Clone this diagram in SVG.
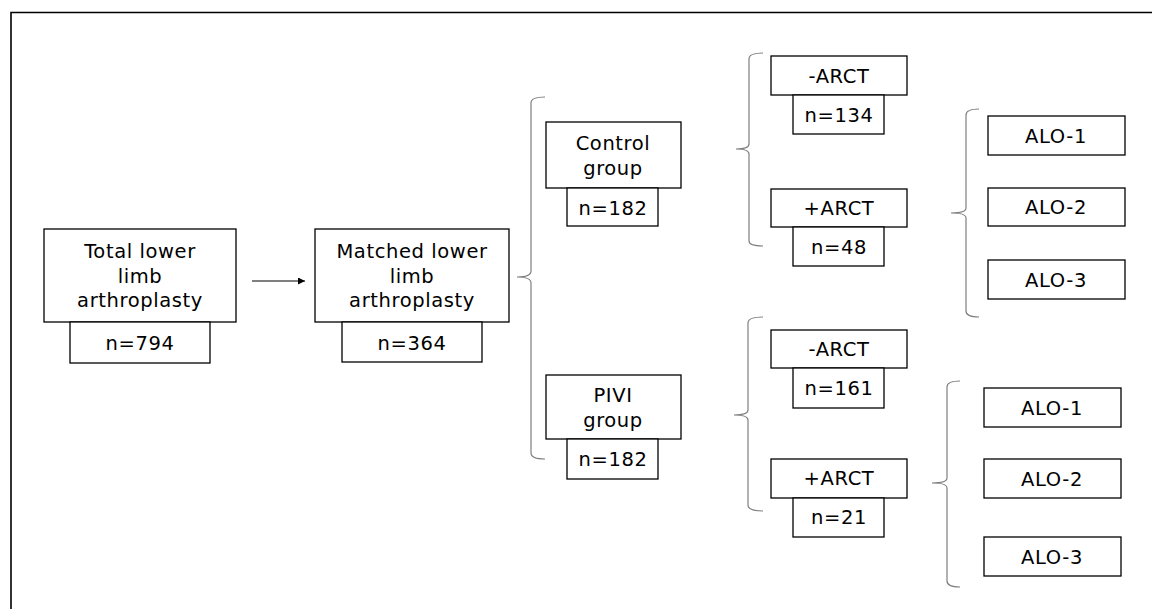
<svg xmlns="http://www.w3.org/2000/svg" width="1152" height="609" viewBox="0 0 1152 609">
<style>
.box{fill:#fff;stroke:#000;stroke-width:1.3}
.t{font-family:"DejaVu Sans",Verdana,sans-serif;font-size:19.5px;letter-spacing:0.6px;text-anchor:middle;fill:#000}
.br{fill:none;stroke:#7f7f7f;stroke-width:1.2}
</style>
<defs>
<marker id="ah" viewBox="0 0 10 10" refX="10" refY="5" markerWidth="7" markerHeight="7" orient="auto" markerUnits="userSpaceOnUse">
<path d="M0,0 L10,5 L0,10 z" fill="#000"/>
</marker>
</defs>
<rect width="1152" height="609" fill="#fff"/>
<path d="M11,609 V12.5 H1152" fill="none" stroke="#000" stroke-width="1.6"/>
<g id="connectors">
<line x1="252" y1="281" x2="305" y2="281" stroke="#000" stroke-width="1" marker-end="url(#ah)"/>
<path class="br" d="M545,97 Q531,97 531,103 L531,271 Q531,277 517,277 Q531,277 531,283 L531,453 Q531,459 545,459"/>
<path class="br" d="M763,53 Q749,53 749,59 L749,144 Q749,149 736,149 Q749,149 749,154 L749,241 Q749,246 763,246"/>
<path class="br" d="M979,109 Q966,109 966,115 L966,208 Q966,213 951,213 Q966,213 966,218 L966,311 Q966,317 979,317"/>
<path class="br" d="M763,317 Q748,317 748,323 L748,410 Q748,415 734,415 Q748,415 748,420 L748,505 Q748,511 763,511"/>
<path class="br" d="M960,381 Q947,381 947,387 L947,478 Q947,483 932,483 Q947,483 947,488 L947,581 Q947,587 960,587"/>
</g>
<g id="total">
<rect class="box" x="44" y="229" width="192" height="93"/>
<text class="t" x="140" y="258">Total lower</text>
<text class="t" x="140" y="283">limb</text>
<text class="t" x="140" y="307">arthroplasty</text>
<rect class="box" x="70" y="322" width="140" height="41"/>
<text class="t" x="140" y="350">n=794</text>
</g>
<g id="matched">
<rect class="box" x="315" y="229" width="194" height="93"/>
<text class="t" x="412" y="258">Matched lower</text>
<text class="t" x="412" y="283">limb</text>
<text class="t" x="412" y="307">arthroplasty</text>
<rect class="box" x="342" y="322" width="140" height="40"/>
<text class="t" x="412" y="350">n=364</text>
</g>
<g id="control">
<rect class="box" x="546" y="122" width="135" height="66"/>
<text class="t" x="613" y="150">Control</text>
<text class="t" x="613" y="175">group</text>
<rect class="box" x="567" y="188" width="91" height="38"/>
<text class="t" x="613" y="215">n=182</text>
</g>
<g id="pivi">
<rect class="box" x="546" y="375" width="135" height="64"/>
<text class="t" x="613" y="402">PIVI</text>
<text class="t" x="613" y="427">group</text>
<rect class="box" x="567" y="439" width="91" height="40"/>
<text class="t" x="613" y="466">n=182</text>
</g>
<g id="c-minus">
<rect class="box" x="771" y="56" width="136" height="39"/>
<text class="t" x="839" y="83">-ARCT</text>
<rect class="box" x="793" y="95" width="91" height="39"/>
<text class="t" x="839" y="122">n=134</text>
</g>
<g id="c-plus">
<rect class="box" x="771" y="189" width="136" height="38"/>
<text class="t" x="839" y="215">+ARCT</text>
<rect class="box" x="793" y="227" width="91" height="39"/>
<text class="t" x="839" y="254">n=48</text>
</g>
<g id="p-minus">
<rect class="box" x="771" y="330" width="136" height="38"/>
<text class="t" x="839" y="356">-ARCT</text>
<rect class="box" x="793" y="368" width="91" height="40"/>
<text class="t" x="839" y="395">n=161</text>
</g>
<g id="p-plus">
<rect class="box" x="771" y="459" width="136" height="39"/>
<text class="t" x="839" y="485">+ARCT</text>
<rect class="box" x="793" y="498" width="91" height="39"/>
<text class="t" x="839" y="524">n=21</text>
</g>
<g id="c-alo1"><rect class="box" x="988" y="116" width="137" height="39"/><text class="t" x="1056" y="143">ALO-1</text></g>
<g id="c-alo2"><rect class="box" x="988" y="188" width="137" height="38"/><text class="t" x="1056" y="214">ALO-2</text></g>
<g id="c-alo3"><rect class="box" x="988" y="260" width="137" height="39"/><text class="t" x="1056" y="287">ALO-3</text></g>
<g id="p-alo1"><rect class="box" x="984" y="388" width="137" height="39"/><text class="t" x="1052" y="415">ALO-1</text></g>
<g id="p-alo2"><rect class="box" x="984" y="459" width="137" height="39"/><text class="t" x="1052" y="486">ALO-2</text></g>
<g id="p-alo3"><rect class="box" x="984" y="537" width="137" height="39"/><text class="t" x="1052" y="564">ALO-3</text></g>
</svg>
